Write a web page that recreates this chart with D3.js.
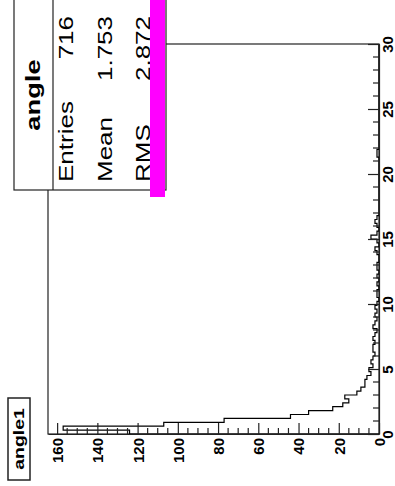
<!DOCTYPE html>
<html>
<head>
<meta charset="utf-8">
<script src="https://cdn.jsdelivr.net/npm/d3@7"></script>
<style>
  body { margin: 0; background: #fff; }
  svg { display: block; font-family: "Liberation Sans", Arial, sans-serif; }
</style>
</head>
<body>
<div id="chart"></div>
<script>
//--------------------------------------------------
// data
//--------------------------------------------------
const histTitle = "angle1";
const angleRange = [0, 30];
const angleTicks = [0, 5, 10, 15, 20, 25, 30];
const countTicks = [0, 20, 40, 60, 80, 100, 120, 140, 160];

// 100 bins of 0.3 from 0 to 30
const counts = [
  124, 157, 107, 77, 44, 35, 23, 18, 15, 17,
  11, 9, 7, 7, 6, 4, 5, 3, 4, 3,
  2, 3, 3, 2, 3, 2, 1, 3, 2, 1,
  2, 1, 2, 1, 0, 1, 1, 0, 1, 0,
  1, 0, 1, 1, 0, 0, 1, 2, 0, 1,
  4, 1, 0, 1, 2, 1, 0, 0, 0, 0,
  0, 0, 0, 0, 0, 0, 0, 0, 0, 0,
  0, 1, 1, 0, 0, 0, 0, 0, 0, 0,
  0, 0, 0, 0, 0, 0, 0, 0, 0, 0,
  0, 0, 0, 0, 0, 0, 0, 0, 0, 0
];

const statsTitle = "angle";
const statsLabels = ["Entries", "Mean", "RMS"];
const statsValues = ["716", "1.753", "2.872"];

//--------------------------------------------------
// drawing (the whole ROOT canvas is turned 90 deg)
//--------------------------------------------------
const width = 395, height = 486;
const ink = "#222";

const svg = d3.select("#chart").append("svg")
  .attr("width", width).attr("height", height);

// angle runs up the page, counts run to the left
const yAngle = d3.scaleLinear().domain(angleRange).range([434, 44]);
const xCount = d3.scaleLinear().domain([0, d3.max(counts) * 1.048]).range([379, 48]);

const binW = (angleRange[1] - angleRange[0]) / counts.length;

// frame
svg.append("rect")
  .attr("x", xCount.range()[1]).attr("y", yAngle(30))
  .attr("width", xCount(0) - xCount.range()[1])
  .attr("height", yAngle(0) - yAngle(30))
  .attr("fill", "none").attr("stroke", ink).attr("stroke-width", 1.2);

// histogram outline
let pts = [[xCount(0), yAngle(0)]];
counts.forEach((c, i) => {
  pts.push([xCount(c), yAngle(i * binW)]);
  pts.push([xCount(c), yAngle((i + 1) * binW)]);
});
pts.push([xCount(0), yAngle(angleRange[1])]);

svg.append("path")
  .attr("d", d3.line()(pts))
  .attr("fill", "none").attr("stroke", "#000").attr("stroke-width", 1.2);

// count axis along the bottom, ticks pointing up
const countAxis = d3.axisBottom(xCount)
  .tickValues(countTicks)
  .tickSizeInner(-11).tickSizeOuter(0)
  .tickFormat(d3.format("d"));

const gCount = svg.append("g")
  .attr("transform", `translate(0,${yAngle(0)})`)
  .call(countAxis);
gCount.select(".domain").attr("stroke", ink).attr("stroke-width", 1.2);
gCount.selectAll(".tick line").attr("stroke", ink).attr("stroke-width", 1.2);
gCount.selectAll(".tick text")
  .attr("y", 0).attr("dy", "0.36em")
  .attr("transform", "translate(0,4) rotate(-90)")
  .attr("text-anchor", "end")
  .style("font-size", "15px").style("font-weight", "bold").attr("fill", "#000");

// minor count ticks every 5
svg.append("g").selectAll("line")
  .data(d3.range(0, 165, 5).filter(v => v % 20 !== 0))
  .enter().append("line")
  .attr("x1", d => xCount(d)).attr("x2", d => xCount(d))
  .attr("y1", yAngle(0)).attr("y2", yAngle(0) - 6)
  .attr("stroke", ink).attr("stroke-width", 1.2);

// angle axis on the right, ticks pointing left
const angleAxis = d3.axisRight(yAngle)
  .tickValues(angleTicks)
  .tickSizeInner(-11).tickSizeOuter(0)
  .tickFormat(d3.format("d"));

const gAngle = svg.append("g")
  .attr("transform", `translate(${xCount(0)},0)`)
  .call(angleAxis);
gAngle.select(".domain").attr("stroke", ink).attr("stroke-width", 1.2);
gAngle.selectAll(".tick line").attr("stroke", ink).attr("stroke-width", 1.2);
gAngle.selectAll(".tick text")
  .attr("x", 0).attr("dy", 0)
  .attr("transform", "translate(14,0) rotate(-90)")
  .attr("text-anchor", "middle")
  .style("font-size", "15px").style("font-weight", "bold").attr("fill", "#000");

// minor angle ticks every 1
svg.append("g").selectAll("line")
  .data(d3.range(1, 30).filter(v => v % 5 !== 0))
  .enter().append("line")
  .attr("x1", xCount(0)).attr("x2", xCount(0) - 6)
  .attr("y1", d => yAngle(d)).attr("y2", d => yAngle(d))
  .attr("stroke", ink).attr("stroke-width", 1.2);

// stats box
const statsG = svg.append("g");
statsG.append("rect")
  .attr("x", 14).attr("y", -2).attr("width", 152).attr("height", 192)
  .attr("fill", "#fff").attr("stroke", ink).attr("stroke-width", 1.2);
statsG.append("line")
  .attr("x1", 53).attr("x2", 53).attr("y1", -2).attr("y2", 190)
  .attr("stroke", ink).attr("stroke-width", 1.2);

statsG.append("text")
  .attr("transform", "translate(40,95) rotate(-90) scale(1.3,1)")
  .attr("text-anchor", "middle")
  .style("font-size", "21px").style("font-weight", "bold")
  .text(statsTitle);

const lineX = [73, 112, 150];
statsLabels.forEach((lab, i) => {
  statsG.append("text")
    .attr("transform", `translate(${lineX[i]},182) rotate(-90) scale(1.3,1)`)
    .attr("text-anchor", "start")
    .style("font-size", "20px")
    .text(lab);
  statsG.append("text")
    .attr("transform", `translate(${lineX[i]},16) rotate(-90) scale(1.3,1)`)
    .attr("text-anchor", "end")
    .style("font-size", "20px")
    .text(statsValues[i]);
});

// magenta strip
svg.append("rect")
  .attr("x", 150).attr("y", 0).attr("width", 15).attr("height", 197)
  .attr("fill", "#ff00ff");

// histogram title box
const tG = svg.append("g");
tG.append("rect")
  .attr("x", 8).attr("y", 398).attr("width", 22).attr("height", 82)
  .attr("fill", "#fff").attr("stroke", ink).attr("stroke-width", 1.5);
tG.append("text")
  .attr("transform", "translate(24,439) rotate(-90) scale(1.3,1)")
  .attr("text-anchor", "middle")
  .style("font-size", "15px").style("font-weight", "bold")
  .text(histTitle);
</script>
</body>
</html>
